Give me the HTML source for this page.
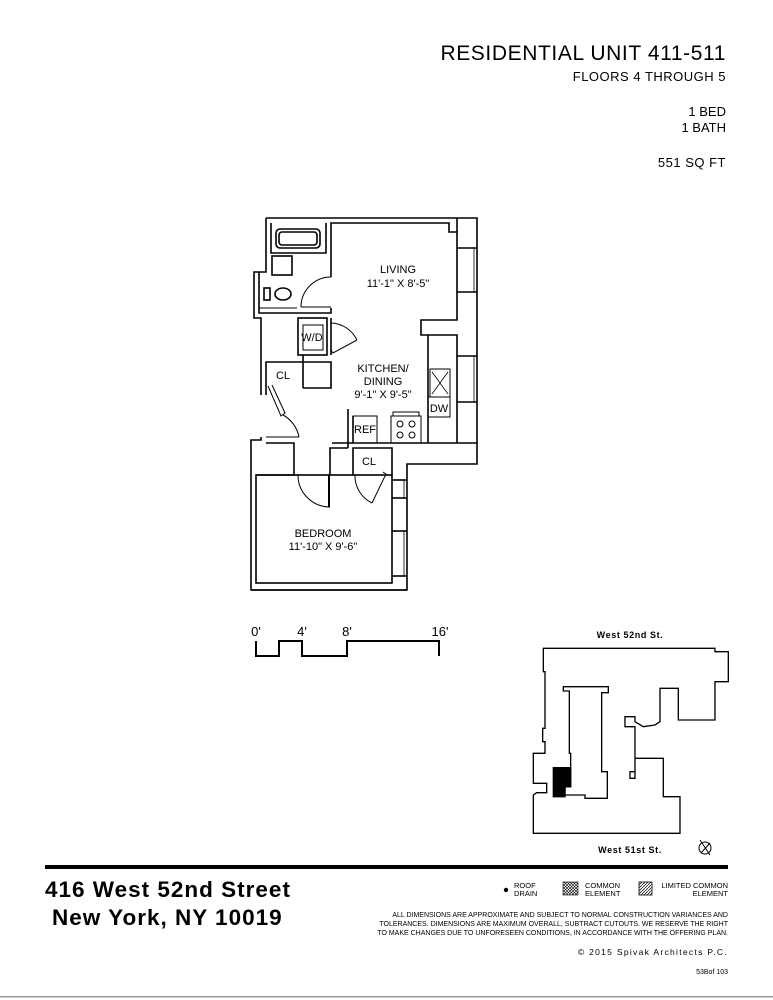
<!DOCTYPE html>
<html><head><meta charset="utf-8"><style>
html,body{margin:0;padding:0;background:#fff;}
svg{display:block;}
text{font-family:"Liberation Sans",Arial,sans-serif;fill:#000;}
</style></head><body>
<svg width="773" height="1000" viewBox="0 0 773 1000" xmlns="http://www.w3.org/2000/svg">
<defs>
<pattern id="xh" width="3" height="3" patternUnits="userSpaceOnUse"><path d="M0,0L3,3M3,0L0,3" stroke="#000" stroke-width="0.6"/></pattern>
<pattern id="dh" width="3" height="3" patternUnits="userSpaceOnUse"><path d="M0,3L3,0" stroke="#000" stroke-width="0.7"/></pattern>
</defs>
<text x="726" y="60" font-size="21" text-anchor="end" letter-spacing="0.6">RESIDENTIAL UNIT 411-511</text>
<text x="726" y="81" font-size="13" text-anchor="end" letter-spacing="0.5">FLOORS 4 THROUGH 5</text>
<text x="726" y="116" font-size="13" text-anchor="end">1 BED</text>
<text x="726" y="132" font-size="13" text-anchor="end">1 BATH</text>
<text x="726" y="167" font-size="13" text-anchor="end" letter-spacing="0.5">551 SQ FT</text>

<g fill="none" stroke="#000" stroke-width="1.6">
<polyline points="266,218 477,218 477,464 407,464 407,590 251,590 251,440 261,440 261,437"/>
<polyline points="266,218 266,272 254,272 254,318 261,318 261,395"/>
<polyline points="271,223 271,253 326,253 326,223"/>
<rect x="276" y="229" width="44" height="19" rx="4"/>
<rect x="279" y="232" width="38" height="13" rx="3"/>
<polyline points="331,277 331,223 449,223 449,232 457,232 457,320 421,320 421,335 457,335 457,443"/>
<line x1="457" y1="218" x2="457" y2="232"/>
<polyline points="259,272 259,313 331,313 331,308"/>
<line x1="259" y1="308" x2="297" y2="308" stroke-width="1"/>
<line x1="457" y1="248" x2="477" y2="248"/><line x1="457" y1="292" x2="477" y2="292"/>
<line x1="457" y1="356" x2="477" y2="356"/><line x1="457" y1="402" x2="477" y2="402"/>
<line x1="474" y1="248" x2="474" y2="292" stroke-width="0.8"/><line x1="474" y1="356" x2="474" y2="402" stroke-width="0.8"/>
<rect x="272" y="256" width="20" height="19"/>
<ellipse cx="283" cy="294" rx="8" ry="6"/>
<rect x="264" y="288" width="6" height="12"/>
<path d="M331,277 A30,30 0 0 0 301,307" stroke-width="1"/>
<line x1="301" y1="307" x2="331" y2="307" stroke-width="1"/>
<rect x="298" y="318" width="29" height="37"/>
<rect x="303" y="325" width="20" height="25" stroke-width="1"/>
<line x1="331" y1="318" x2="331" y2="355"/>
<path d="M331,323 A30,30 0 0 1 357,340" stroke-width="1"/>
<polyline points="357,340 333,353 331,350" stroke-width="1"/>
<polyline points="303,355 303,362 331,362 331,388 303,388" stroke-width="1.6"/>
<polyline points="266,395 266,362 303,362 303,388"/>
<polyline points="268,386 281,416 285,413 272,385" stroke-width="1"/>
<path d="M283,415 A32,32 0 0 1 299,437" stroke-width="1"/>
<line x1="266" y1="437" x2="299" y2="437" stroke-width="1"/>
<polyline points="428,335 428,443"/>
<rect x="430" y="369" width="20" height="28" stroke-width="1"/>
<line x1="432" y1="372" x2="448" y2="394" stroke-width="0.8"/><line x1="448" y1="372" x2="432" y2="394" stroke-width="0.8"/>
<rect x="428" y="397" width="22" height="20" stroke-width="1"/>
<polyline points="332,443 477,443"/>
<polyline points="348,409 348,448"/>
<line x1="353" y1="416" x2="353" y2="443"/>
<rect x="353" y="416" width="24" height="27" stroke-width="1"/>
<rect x="391" y="416" width="30" height="27" stroke-width="1"/>
<rect x="393" y="412" width="26" height="4" stroke-width="1"/>
<circle cx="400" cy="424" r="3" stroke-width="1"/><circle cx="412" cy="424" r="3" stroke-width="1"/>
<circle cx="400" cy="435" r="3" stroke-width="1"/><circle cx="412" cy="435" r="3" stroke-width="1"/>
<rect x="256" y="475" width="136" height="108"/>
<polyline points="256,475 294,475 294,443 266,443"/>
<polyline points="330,475 330,448 348,448"/>
<path d="M298,474 A32,32 0 0 0 330,507" stroke-width="1"/>
<line x1="329" y1="475" x2="329" y2="507" stroke-width="2"/>
<polyline points="353,475 353,448 392,448 392,475"/>
<path d="M355,475 A30,30 0 0 0 372,503" stroke-width="1"/>
<polyline points="372,503 386,474 383,472" stroke-width="1"/>
<line x1="392" y1="480" x2="407" y2="480"/><line x1="392" y1="498" x2="407" y2="498"/>
<line x1="392" y1="531" x2="407" y2="531"/><line x1="392" y1="576" x2="407" y2="576"/>
<line x1="404" y1="480" x2="404" y2="498" stroke-width="0.8"/><line x1="404" y1="531" x2="404" y2="576" stroke-width="0.8"/>
<line x1="251" y1="590" x2="407" y2="590"/>
</g>
<g font-size="11" text-anchor="middle">
<text x="398" y="273">LIVING</text>
<text x="398" y="287">11'-1" X 8'-5"</text>
<text x="383" y="372">KITCHEN/</text>
<text x="383" y="385">DINING</text>
<text x="383" y="398">9'-1" X 9'-5"</text>
<text x="312" y="341">W/D</text>
<text x="283" y="379">CL</text>
<text x="369" y="465">CL</text>
<text x="439" y="412">DW</text>
<text x="365" y="433">REF</text>
<text x="323" y="537">BEDROOM</text>
<text x="323" y="550">11'-10" X 9'-6"</text>
</g>

<g font-size="13" text-anchor="middle">
<text x="256" y="636">0'</text><text x="302" y="636">4'</text><text x="347" y="636">8'</text><text x="440" y="636">16'</text>
</g>
<polyline points="256,641 256,656 279,656 279,641 302,641 302,656 347,656 347,641 439,641 439,656" fill="none" stroke="#000" stroke-width="2"/>

<text x="630" y="638" font-size="9" font-weight="bold" text-anchor="middle" letter-spacing="0.6">West 52nd St.</text>
<text x="630" y="853" font-size="9" font-weight="bold" text-anchor="middle" letter-spacing="0.6">West 51st St.</text>
<g transform="translate(520,620) scale(0.3333)" fill="none" stroke="#000" stroke-width="4">
<polygon points="70,85 585,85 585,95 625,95 625,185 585,185 585,300 475,300 475,205 420,205 420,305 405,315 370,320 345,305 345,290 315,290 315,320 345,320 345,455 330,455 330,475 345,475 345,415 430,415 430,530 480,530 480,640 40,640 40,525 50,518 80,518 80,490 40,490 40,400 75,400 75,365 68,365 68,325 75,325 75,155 70,155"/>
<polygon points="130,200 265,200 265,218 245,218 245,455 262,455 262,535 195,535 195,525 135,525 135,500 152,500 152,400 148,400 148,213 130,213"/>
<polygon points="100,443 152,443 152,500 135,500 135,530 100,530" fill="#000"/>
</g>
<g fill="none" stroke="#000" stroke-width="1">
<circle cx="705" cy="848" r="6"/>
<line x1="700" y1="840" x2="710" y2="855"/><line x1="701" y1="853" x2="710" y2="843"/>
</g>

<rect x="45" y="865" width="683" height="4" fill="#000"/>
<text x="45" y="897" font-size="22.5" font-weight="bold" letter-spacing="1">416 West 52nd Street</text>
<text x="52" y="925" font-size="22.5" font-weight="bold" letter-spacing="1">New York, NY 10019</text>
<circle cx="506" cy="890" r="2.2" fill="#000"/>
<text x="514" y="888" font-size="7.5">ROOF</text><text x="514" y="896" font-size="7.5">DRAIN</text>
<rect x="563" y="882" width="15" height="13" fill="url(#xh)" stroke="#000" stroke-width="0.6"/>
<text x="585" y="888" font-size="7.5">COMMON</text><text x="585" y="896" font-size="7.5">ELEMENT</text>
<rect x="639" y="882" width="13" height="13" fill="url(#dh)" stroke="#000" stroke-width="0.8"/>
<text x="728" y="888" font-size="7.5" text-anchor="end">LIMITED COMMON</text><text x="728" y="896" font-size="7.5" text-anchor="end">ELEMENT</text>
<g font-size="7" text-anchor="end">
<text x="728" y="917">ALL DIMENSIONS ARE APPROXIMATE AND SUBJECT TO NORMAL CONSTRUCTION VARIANCES AND</text>
<text x="728" y="926">TOLERANCES. DIMENSIONS ARE MAXIMUM OVERALL, SUBTRACT CUTOUTS. WE RESERVE THE RIGHT</text>
<text x="728" y="935">TO MAKE CHANGES DUE TO UNFORESEEN CONDITIONS, IN ACCORDANCE WITH THE OFFERING PLAN.</text>
</g>
<text x="728" y="955" font-size="8.5" text-anchor="end" letter-spacing="1.3">©  2015 Spivak Architects P.C.</text>
<text x="728" y="974" font-size="7" text-anchor="end">53Bof 103</text>
<rect x="0" y="996" width="773" height="1.5" fill="#999"/>
</svg>
</body></html>
